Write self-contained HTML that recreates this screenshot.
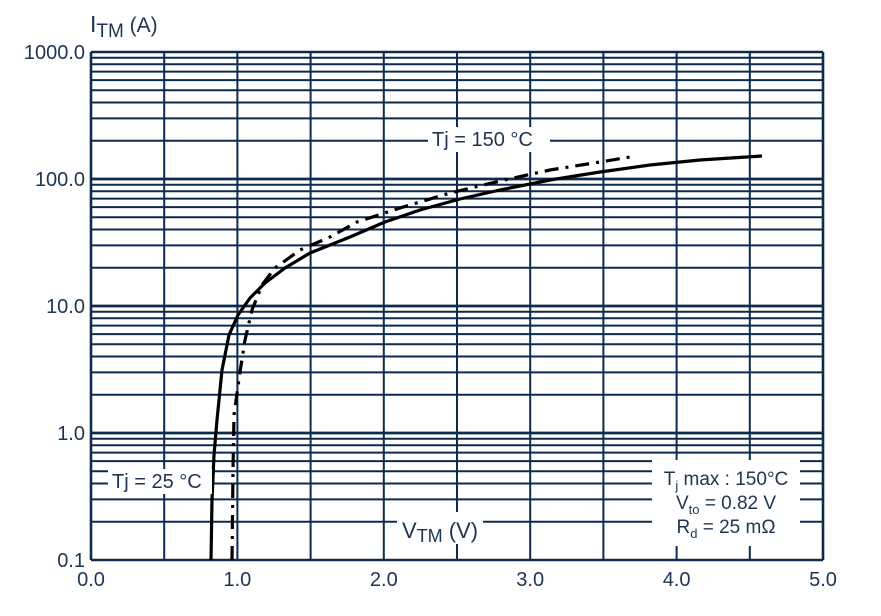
<!DOCTYPE html>
<html><head><meta charset="utf-8"><style>
body{margin:0;background:#fff;}
svg{display:block;font-family:"Liberation Sans",sans-serif;}
</style></head><body>
<svg id="s" width="881" height="616" viewBox="0 0 881 616" xmlns="http://www.w3.org/2000/svg">
<rect width="881" height="616" fill="#fff"/>
<g id="grid" stroke="#0f2a4f" stroke-width="2"></g>
<g id="labels" fill="#1c3553" font-size="20"></g>
<polyline fill="none" stroke="#000" stroke-width="3.2" stroke-linejoin="round" points="211,560 212,500 214,455 217,420 222,370 229,335 238,315 250,298 265,283 285,268 310,253 350,237 385,222 420,210 460,199 500,190 550,180 600,172 650,165 700,160 762,156"/>
<polyline fill="none" stroke="#000" stroke-width="3.2" stroke-dasharray="14,7,3,7" points="232,560 233,470 234,415 240,372 245,340 252,310 262,285 275,268 300,250 330,237 357,222 400,208 450,193 500,181 550,170 600,162 636,156"/>
<rect x="428" y="127" width="122" height="25" fill="#fff"/>
<text x="432" y="146" font-size="20" fill="#1c3553">Tj = 150 °C</text>
<rect x="108" y="469" width="104" height="25" fill="#fff"/>
<text x="112" y="488" font-size="20" fill="#1c3553">Tj = 25 °C</text>
<rect x="397" y="512" width="86" height="32" fill="#fff"/>
<text x="402" y="538" font-size="22" fill="#1c3553">V<tspan font-size="18" dy="4">TM</tspan><tspan dy="-4"> (V)</tspan></text>
<rect x="652" y="460" width="148" height="86" fill="#fff"/>
<g fill="#1c3553" font-size="19" text-anchor="middle">
<text x="726" y="485">T<tspan font-size="13" dy="5">j</tspan><tspan dy="-5"> max : 150°C</tspan></text>
<text x="726" y="509">V<tspan font-size="13" dy="5">to</tspan><tspan dy="-5"> = 0.82 V</tspan></text>
<text x="726" y="533">R<tspan font-size="13" dy="5">d</tspan><tspan dy="-5"> = 25 mΩ</tspan></text>
</g>
<text x="90" y="32" font-size="23" fill="#1c3553">I<tspan font-size="19" dy="5">TM</tspan><tspan dy="-5" font-size="21"> (A)</tspan></text>
</svg>
<script>
var g=document.getElementById('grid'),L=document.getElementById('labels'),ns="http://www.w3.org/2000/svg";
function ln(x1,y1,x2,y2,w){var e=document.createElementNS(ns,'line');e.setAttribute('x1',x1);e.setAttribute('y1',y1);e.setAttribute('x2',x2);e.setAttribute('y2',y2);if(w)e.setAttribute('stroke-width',w);g.appendChild(e);}
var x0=91,x1=823,yb=560,dec=127;
for(var d=0;d<4;d++){for(var k=1;k<=10;k++){var y=yb-dec*(d+Math.log10(k));ln(x0,y,x1,y,k==1||k==10?2.6:2);}}
for(var i=0;i<=10;i++){var x=x0+(x1-x0)*i/10;ln(x,52,x,yb,i==0||i==10?2.6:2);}
function tx(x,y,s,a){var e=document.createElementNS(ns,'text');e.setAttribute('x',x);e.setAttribute('y',y);e.setAttribute('text-anchor',a);e.textContent=s;L.appendChild(e);}
var ys=['0.1','1.0','10.0','100.0','1000.0'];
for(var i=0;i<5;i++)tx(85,yb-dec*i+7,ys[i],'end');
for(var i=0;i<=5;i++)tx(x0+(x1-x0)*i/5,586,i.toFixed(1),'middle');
</script>
</body></html>
